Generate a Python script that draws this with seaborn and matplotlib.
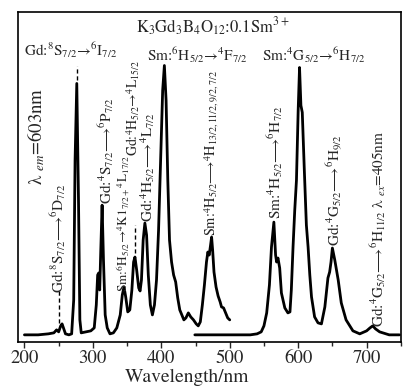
import numpy as np
import pandas as pd
import matplotlib
matplotlib.use("Agg")
import matplotlib.pyplot as plt
import seaborn as sns

# ---------------- data (intensity in arbitrary units) ----------------
exc_wl = [200, 220, 235, 243, 247, 250, 253, 255, 257, 260, 265, 269, 272, 274, 276.5,
          279, 281, 283, 290, 297, 302, 305, 307, 308.5, 310, 311.5, 313.5, 315.5, 318,
          321, 325, 330, 335, 340, 343, 345.5, 348, 351, 354, 357, 359.5, 361.5, 364,
          367, 369, 371, 373.5, 376, 378.5, 381, 384, 387, 390, 393, 396, 399, 402,
          404.5, 407, 409.5, 412, 415, 418, 421, 424, 427, 430, 433, 436, 439.5, 443,
          447, 451, 454, 457, 460, 463, 466, 468, 470, 472, 473.5, 475, 477, 480, 483,
          486, 488, 491, 494, 497, 500]
exc_int = [7, 7, 8, 9, 12, 10, 16, 18, 14, 8, 7, 8, 42, 182, 259,
           142, 22, 9, 10, 11, 14, 37, 67, 69, 52, 90, 137, 82, 27,
           14, 8, 9, 14, 27, 47, 55, 45, 30, 32, 52, 80, 85, 72,
           54, 51, 62, 102, 119, 107, 67, 37, 27, 37, 62, 112, 182, 252,
           277, 242, 162, 102, 80, 67, 60, 44, 32, 27, 22, 24, 29, 25,
           22, 18, 16, 20, 37, 57, 80, 90, 87, 97, 105, 92, 70, 55, 46,
           40, 35, 34, 29, 24, 22]

emi_wl = [449, 480, 510, 530, 540, 546, 550, 554, 558, 561, 564.5, 567, 568.5, 570.5,
          573, 575.5, 580.5, 585, 588, 590, 592.5, 595, 597.5, 600, 602, 604, 606, 609,
          612, 614.5, 617, 619.5, 624, 629, 634, 639, 643.5, 646, 648, 650, 653.5,
          658.5, 663, 670, 680, 690, 700, 705, 709, 713, 719, 733, 748]
emi_int = [7, 7, 7, 7, 8, 10, 16, 29, 57, 95, 120, 87, 80, 84,
           74, 49, 34, 29, 30, 52, 95, 132, 162, 232, 275, 237, 230, 172,
           117, 95, 67, 45, 25, 19, 18, 35, 64, 70, 80, 94, 82,
           62, 39, 22, 11, 8, 11, 14, 16, 13, 10, 7, 7]

x_major = [200, 300, 400, 500, 600, 700]
x_minor = [250, 350, 450, 550, 650, 750]

# dashed guide lines: (wavelength, low, high)
guide_wl = [250, 276.5, 362]
guide_lo = [19, 262, 89]
guide_hi = [52, 277, 117]

# ---------------- style ----------------
sns.set_style("ticks")
plt.rcParams["font.family"] = ["STIXGeneral", "DejaVu Serif"]
plt.rcParams["mathtext.fontset"] = "stix"

fig = plt.figure(figsize=(4.09, 3.88), dpi=100)
ax = fig.add_axes([0.043, 0.119, 0.937, 0.851])

df_exc = pd.DataFrame({"wl": exc_wl, "I": exc_int})
df_emi = pd.DataFrame({"wl": emi_wl, "I": emi_int})
sns.lineplot(data=df_exc, x="wl", y="I", ax=ax, color="black", lw=2.0,
             sort=False, estimator=None)
sns.lineplot(data=df_emi, x="wl", y="I", ax=ax, color="black", lw=2.0,
             sort=False, estimator=None)

for w, lo, hi in zip(guide_wl, guide_lo, guide_hi):
    ax.plot([w, w], [lo, hi], color="black", lw=1.0, ls=(0, (3, 2)))

ax.set_xlim(190, 750)
ax.set_ylim(0, 331)
ax.set_xticks(x_major)
ax.set_xticks(x_minor, minor=True)
ax.set_yticks([])
ax.tick_params(axis="x", which="major", direction="out", length=4, width=1.0,
               labelsize=13.5, pad=2)
ax.tick_params(axis="x", which="minor", direction="out", length=3, width=1.0)
ax.set_xlabel("Wavelength/nm", fontsize=14)
ax.xaxis.set_label_coords(0.442, -0.083)
ax.set_ylabel("")
for s in ax.spines.values():
    s.set_visible(True)
    s.set_linewidth(1.2)
    s.set_color("black")

fs = 11
AR = "\u27f6"
SA = "\u2192"

def px(x, y):
    return x / 409.0, 1 - y / 388.0

def ftext(x, y, s, rot=0, ha="center", va="center", size=fs):
    fx, fy = px(x, y)
    fig.text(fx, fy, s, rotation=rot, ha=ha, va=va, fontsize=size)

# horizontal labels
ftext(213, 27, r"K$_3$Gd$_3$B$_4$O$_{12}$:0.1Sm$^{3+}$", size=12)
ftext(71, 50, r"Gd:$^8$S$_{7/2}$" + SA + r"$^6$I$_{7/2}$", size=11)
ftext(197, 55, r"Sm:$^6$H$_{5/2}$" + SA + r"$^4$F$_{7/2}$", size=11)
ftext(314, 55, r"Sm:$^4$G$_{5/2}$" + SA + r"$^6$H$_{7/2}$", size=11)

# rotated labels: (x center, bottom y)
ftext(36, 185, r"λ $_{em}$=603nm", rot=90, va="bottom", size=13.5)
ftext(58, 293, r"Gd:$^8$S$_{7/2}$" + AR + r"$^6$D$_{7/2}$", rot=90, va="bottom")
ftext(106, 204, r"Gd:$^4$S$_{7/2}$" + AR + r"$^6$P$_{7/2}$", rot=90, va="bottom")
ftext(123, 292, r"Sm:$^6$H$_{5/2}$" + SA + r"$^4$K1$_{7/2+}$$^4$L$_{17/2}$", rot=90, va="bottom", size=9.5)
ftext(133, 156, r"Gd:$^4$H$_{5/2}$" + SA + r"$^4$L$_{15/2}$", rot=90, va="bottom", size=10)
ftext(148, 222, r"Gd:$^4$H$_{5/2}$" + AR + r"$^4$L$_{7/2}$", rot=90, va="bottom")
ftext(212, 236, r"Sm:$^4$H$_{5/2}$" + AR + r"$^4$H$_{13/2,11/2,9/2,7/2}$", rot=90, va="bottom", size=10.3)
ftext(275, 219, r"Sm:$^4$H$_{5/2}$" + AR + r"$^6$H$_{7/2}$", rot=90, va="bottom")
ftext(334, 246, r"Gd:$^4$G$_{5/2}$" + AR + r"$^6$H$_{9/2}$", rot=90, va="bottom")
ftext(378, 327, r"Gd:$^4$G$_{5/2}$" + AR + r"$^6$H$_{11/2}$ λ $_{ex}$=405nm", rot=90, va="bottom")

fig.savefig("out.png", dpi=100)
